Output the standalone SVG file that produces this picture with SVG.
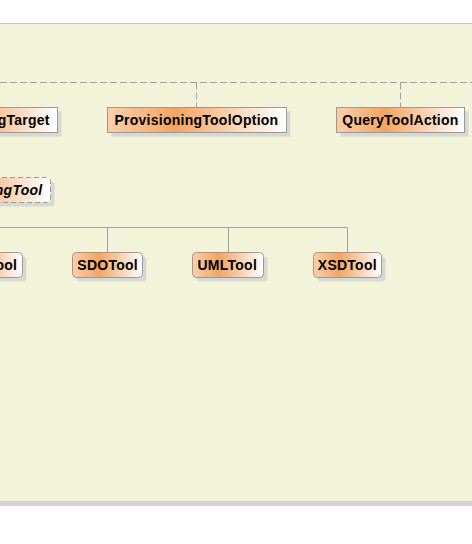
<svg xmlns="http://www.w3.org/2000/svg" width="472" height="544" viewBox="0 0 472 544">
  <defs>
    <linearGradient id="g" x1="0" y1="0" x2="1" y2="0">
      <stop offset="0" stop-color="#f9cfaa"/>
      <stop offset="0.38" stop-color="#f4a462"/>
      <stop offset="1" stop-color="#ffffff"/>
    </linearGradient>
    <style>
      .box { fill: url(#g); stroke: #999999; stroke-width: 1; }
      .dbox { fill: url(#g); stroke: #999999; stroke-width: 1; stroke-dasharray: 5,3; }
      .sh { fill: #d7d7d3; }
      .t { font-family: "Liberation Sans", Arial, sans-serif; font-weight: bold; font-size: 14px; letter-spacing: 0.25px; fill: #000000; }
      .it { font-style: italic; }
      .dash { fill: none; stroke: #a0a0a0; stroke-width: 1; stroke-dasharray: 7,3; }
      .solid { fill: none; stroke: #a0a0a0; stroke-width: 1; }
    </style>
  </defs>

  <rect x="0" y="0" width="472" height="544" fill="#ffffff"/>
  <rect x="0" y="23" width="472" height="478" fill="#f3f3da"/>
  <line x1="0" y1="23.5" x2="472" y2="23.5" stroke="#c3c6ce" stroke-width="1"/>
  <rect x="0" y="501" width="472" height="5" fill="#d4d4d4"/>

  <g id="connectors">
    <path class="dash" d="M0 82.5 H472 M196.5 82.5 V107.5 M400.5 82.5 V107.5"/>
    <path class="solid" d="M0 227.5 H347.5 M107.5 227.5 V252.5 M228.5 227.5 V252.5 M347.5 227.5 V252.5"/>
  </g>

  <g id="ProvisioningTarget">
    <rect class="sh" x="-83.5" y="111.5" width="145" height="25"/>
    <rect class="box" x="-87.5" y="107.5" width="145" height="25"/>
    <text class="t" x="-2.3" y="125.3">gTarget</text>
  </g>

  <g id="ProvisioningToolOption">
    <rect class="sh" x="111.5" y="111.5" width="179" height="25"/>
    <rect class="box" x="107.5" y="107.5" width="179" height="25"/>
    <text class="t" x="114.5" y="125.3">ProvisioningToolOption</text>
  </g>

  <g id="QueryToolAction">
    <rect class="sh" x="340.5" y="111.5" width="128" height="25"/>
    <rect class="box" x="336.5" y="107.5" width="128" height="25"/>
    <text class="t" x="342.3" y="125.3">QueryToolAction</text>
  </g>

  <g id="ProvisioningTool">
    <rect class="sh" x="-86" y="181.5" width="140.5" height="25" rx="4"/>
    <rect class="dbox" x="-90" y="177.5" width="140.5" height="25" rx="4"/>
    <text class="t it" x="-5.2" y="195.3">ngTool</text>
  </g>

  <g id="Tool1">
    <rect class="sh" x="-46" y="256.5" width="72.5" height="25" rx="4"/>
    <rect class="box" x="-50" y="252.5" width="72.5" height="25" rx="4"/>
    <text class="t" x="-4.5" y="270.3">ool</text>
  </g>

  <g id="SDOTool">
    <rect class="sh" x="76.5" y="256.5" width="70" height="25" rx="4"/>
    <rect class="box" x="72.5" y="252.5" width="70" height="25" rx="4"/>
    <text class="t" x="77.3" y="270.3">SDOTool</text>
  </g>

  <g id="UMLTool">
    <rect class="sh" x="196.5" y="256.5" width="71" height="25" rx="4"/>
    <rect class="box" x="192.5" y="252.5" width="71" height="25" rx="4"/>
    <text class="t" x="197.5" y="270.3">UMLTool</text>
  </g>

  <g id="XSDTool">
    <rect class="sh" x="317.5" y="256.5" width="68" height="25" rx="4"/>
    <rect class="box" x="313.5" y="252.5" width="68" height="25" rx="4"/>
    <text class="t" x="317.8" y="270.3">XSDTool</text>
  </g>
</svg>
